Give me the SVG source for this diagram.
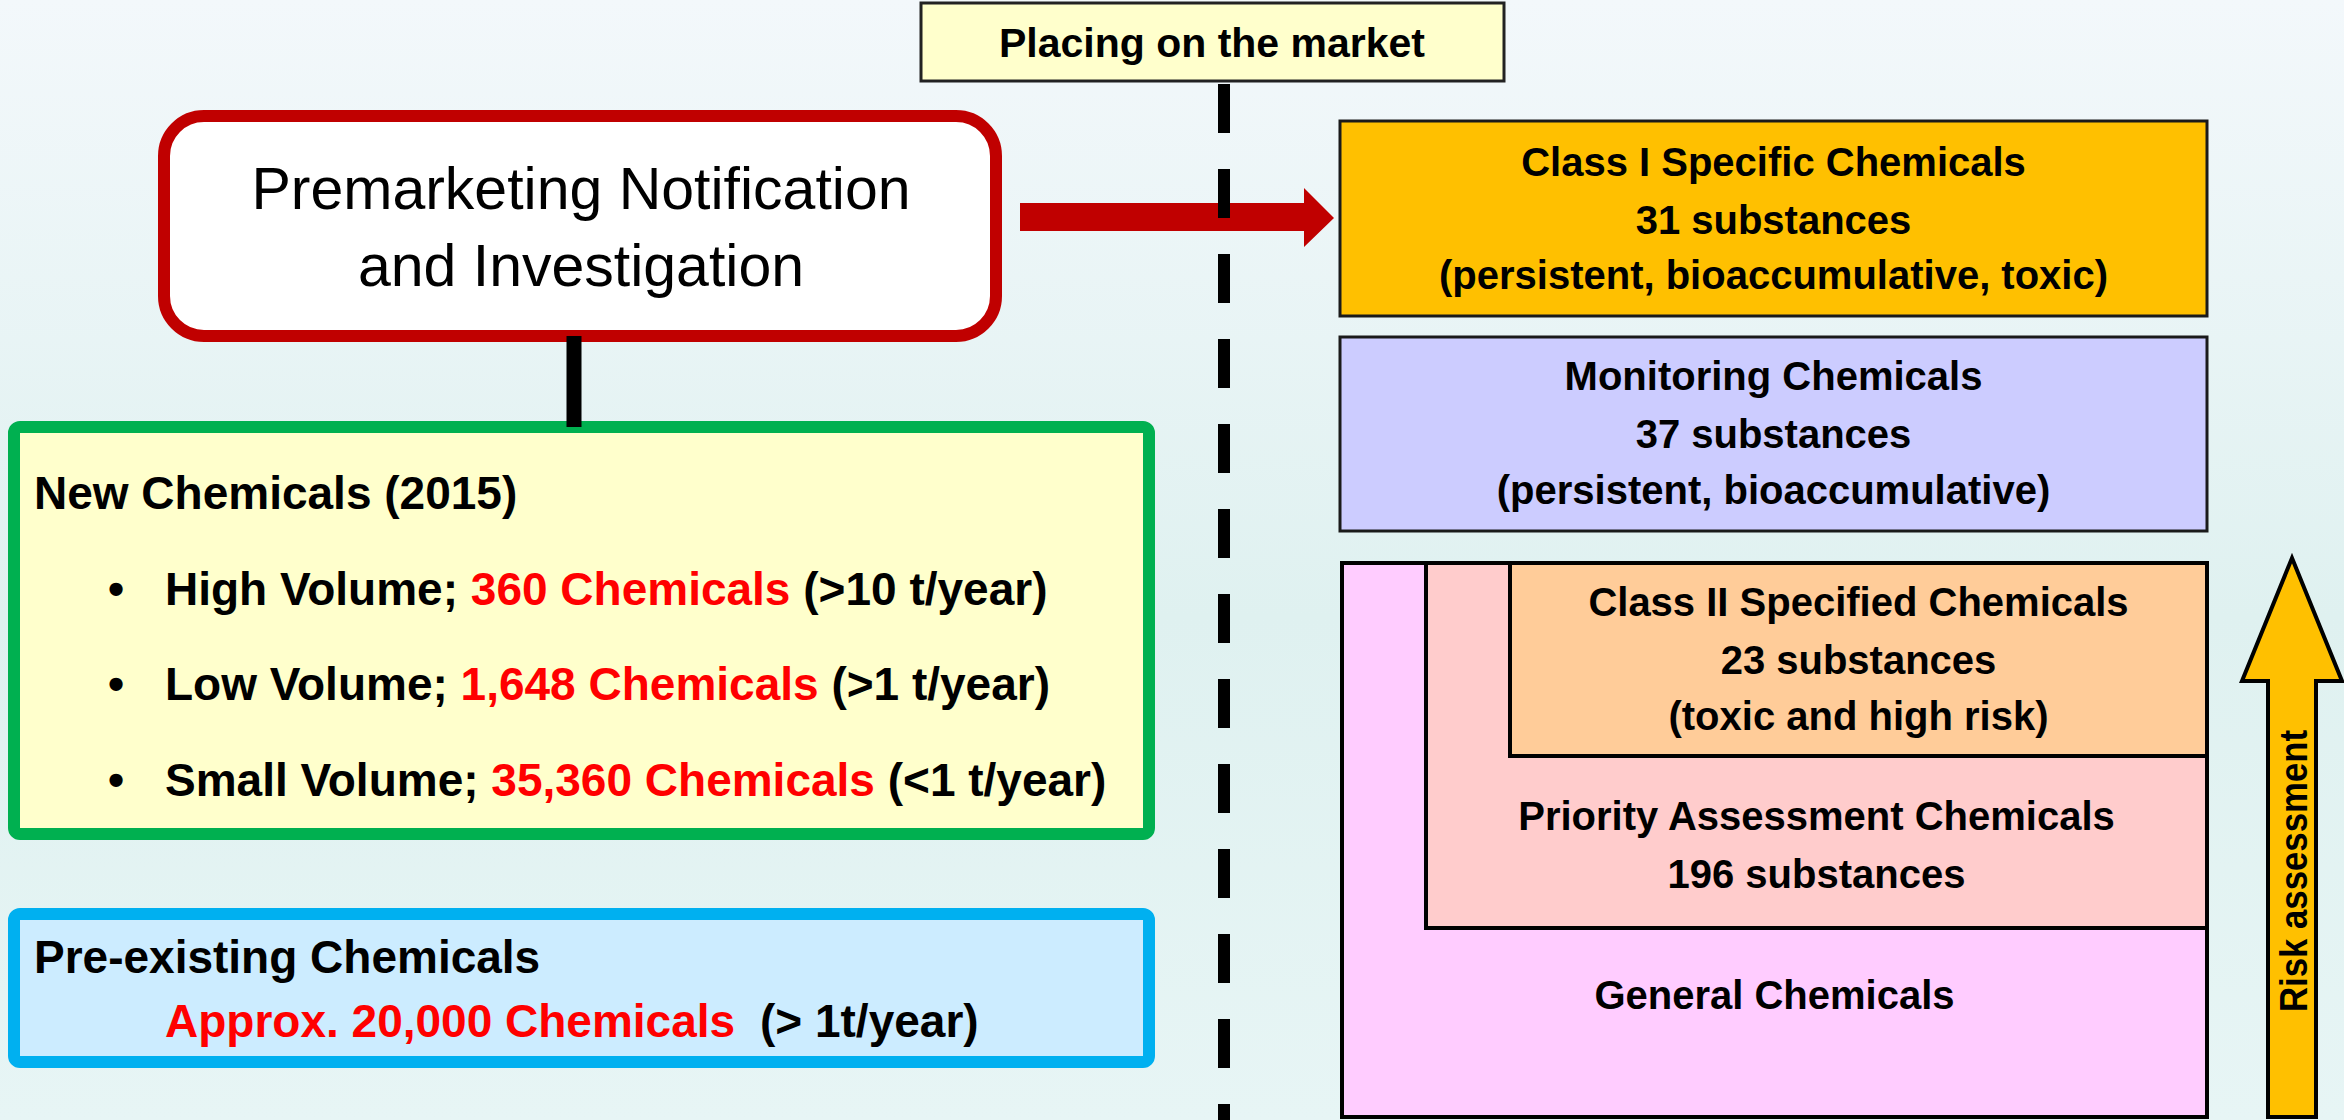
<svg xmlns="http://www.w3.org/2000/svg" width="2344" height="1120" viewBox="0 0 2344 1120">
<defs>
<linearGradient id="bg" x1="0" y1="0" x2="0" y2="1">
<stop offset="0" stop-color="#F3F8FB"/>
<stop offset="0.55" stop-color="#DFF1F0"/>
<stop offset="1" stop-color="#E7F5F5"/>
</linearGradient>
<style>
.t{font-family:"Liberation Sans",Arial,sans-serif;fill:#000}
.b{font-weight:bold}
.c{text-anchor:middle}
.red{fill:#FF0000}
.box{stroke:#1a1a1a;stroke-width:3}
.nest{stroke:#000;stroke-width:4}
</style>
</defs>
<rect x="0" y="0" width="2344" height="1120" fill="url(#bg)"/>

<g id="placing">
<rect x="921" y="3" width="583" height="78" fill="#FFFFCC" stroke="#222" stroke-width="3"/>
<text class="t b c" x="1212" y="57" font-size="41">Placing on the market</text>
</g>

<g id="premarketing">
<rect x="164" y="116" width="832" height="220" rx="40" ry="40" fill="#FFFFFF" stroke="#C00000" stroke-width="12"/>
<text class="t c" x="581" y="209" font-size="59">Premarketing Notification</text>
<text class="t c" x="581" y="286" font-size="59">and Investigation</text>
</g>

<g id="new-chemicals">
<rect x="14" y="427" width="1135" height="407" rx="6" fill="#FFFFCC" stroke="#00B050" stroke-width="12"/>
<text class="t b" x="34" y="509" font-size="46">New Chemicals (2015)</text>
<text class="t b c" x="116" y="605" font-size="46">•</text>
<text class="t b" x="165" y="605" font-size="46">High Volume; <tspan class="red">360 Chemicals</tspan> (&gt;10 t/year)</text>
<text class="t b c" x="116" y="700" font-size="46">•</text>
<text class="t b" x="165" y="700" font-size="46">Low Volume; <tspan class="red">1,648 Chemicals</tspan> (&gt;1 t/year)</text>
<text class="t b c" x="116" y="796" font-size="46">•</text>
<text class="t b" x="165" y="796" font-size="46">Small Volume; <tspan class="red">35,360 Chemicals</tspan> (&lt;1 t/year)</text>
</g>

<g id="pre-existing">
<rect x="14" y="914" width="1135" height="148" rx="6" fill="#CCECFF" stroke="#00B0F0" stroke-width="12"/>
<text class="t b" x="34" y="973" font-size="46">Pre-existing Chemicals</text>
<text class="t b red" x="165" y="1037" font-size="46">Approx. 20,000 Chemicals</text>
<text class="t b" x="760" y="1037" font-size="46">(&gt; 1t/year)</text>
</g>

<g id="class1">
<rect class="box" x="1340" y="121" width="867" height="195" fill="#FFC000"/>
<text class="t b c" x="1773.5" y="176" font-size="40">Class I Specific Chemicals</text>
<text class="t b c" x="1773.5" y="234" font-size="40">31 substances</text>
<text class="t b c" x="1773.5" y="289" font-size="40">(persistent, bioaccumulative, toxic)</text>
</g>

<g id="monitoring">
<rect class="box" x="1340" y="337" width="867" height="194" fill="#CCCCFF"/>
<text class="t b c" x="1773.5" y="390" font-size="40">Monitoring Chemicals</text>
<text class="t b c" x="1773.5" y="448" font-size="40">37 substances</text>
<text class="t b c" x="1773.5" y="504" font-size="40">(persistent, bioaccumulative)</text>
</g>

<g id="general">
<rect class="nest" x="1342" y="563" width="865" height="554" fill="#FFCCFF"/>
<text class="t b c" x="1774.5" y="1009" font-size="40">General Chemicals</text>
</g>

<g id="priority">
<rect class="nest" x="1426" y="563" width="781" height="365" fill="#FFCCCC"/>
<text class="t b c" x="1816.5" y="830" font-size="40">Priority Assessment Chemicals</text>
<text class="t b c" x="1816.5" y="888" font-size="40">196 substances</text>
</g>

<g id="class2">
<rect class="nest" x="1510" y="563" width="697" height="193" fill="#FFCC99"/>
<text class="t b c" x="1858.5" y="616" font-size="40">Class II Specified Chemicals</text>
<text class="t b c" x="1858.5" y="674" font-size="40">23 substances</text>
<text class="t b c" x="1858.5" y="730" font-size="40">(toxic and high risk)</text>
</g>

<g id="risk-assessment">
<polygon points="2292,558 2342,681 2316,681 2316,1117 2268,1117 2268,681 2242,681" fill="#FFC000" stroke="#000" stroke-width="4" stroke-linejoin="miter"/>
<text class="t b c" transform="translate(2294,871) rotate(-90)" x="0" y="13" font-size="38" textLength="282" lengthAdjust="spacingAndGlyphs">Risk assessment</text>
</g>

<g id="connectors">
<line x1="574" y1="336" x2="574" y2="427" stroke="#000" stroke-width="15"/>
<polygon points="1020,203 1304,203 1304,188 1334,218 1304,247 1304,231 1020,231" fill="#C00000"/>
<line x1="1224" y1="84" x2="1224" y2="1120" stroke="#000" stroke-width="12" stroke-dasharray="49 36"/>
</g>
</svg>
